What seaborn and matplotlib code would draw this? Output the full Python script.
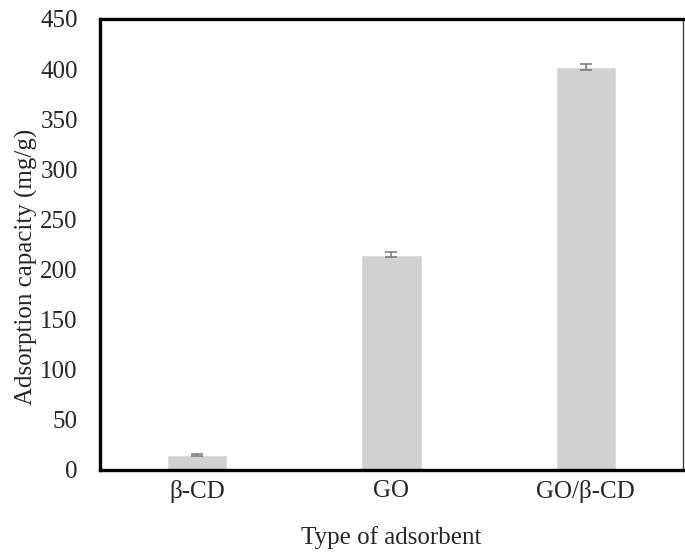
import matplotlib
matplotlib.use("Agg")
import matplotlib.pyplot as plt
import seaborn as sns
import pandas as pd

categories = ["β-CD", "GO", "GO/β-CD"]
values = [15, 215, 402]
errors = [1, 2, 3]
yticks = [0, 50, 100, 150, 200, 250, 300, 350, 400, 450]

sns.set_theme(style="white")
plt.rcParams['font.family'] = ['Liberation Serif', 'DejaVu Serif']

df = pd.DataFrame({"type": categories, "cap": values})

fig = plt.figure(figsize=(6.85, 5.52), dpi=100)
ax = fig.add_axes([0.146, 0.1486, 0.851, 0.817])
sns.barplot(data=df, x="type", y="cap", color="#D0D1D0", width=0.31,
            saturation=1, ax=ax, errorbar=None)
ax.errorbar(range(len(categories)), values, yerr=errors, fmt="none",
            ecolor="#7f7f7f", elinewidth=1.2, capsize=4, capthick=1.2)
ax.set_ylim(0, 450)
ax.set_yticks(yticks)
ax.set_xlim(-0.5, 2.5)
ax.set_xlabel("Type of adsorbent", fontsize=18)
ax.set_ylabel("Adsorption capacity (mg/g)", fontsize=18)
ax.yaxis.set_label_coords(-0.107, 0.45)
ax.xaxis.set_label_coords(0.5, -0.125)
ax.tick_params(axis="y", labelsize=18, length=0, pad=16)
ax.tick_params(axis="x", labelsize=18, length=0, pad=7)
for s in ["left", "bottom", "top"]:
    ax.spines[s].set_color("black")
    ax.spines[s].set_linewidth(2.4)
ax.spines["right"].set_color("#404040")
ax.spines["right"].set_linewidth(1.0)
fig.savefig("out.png", dpi=100)
